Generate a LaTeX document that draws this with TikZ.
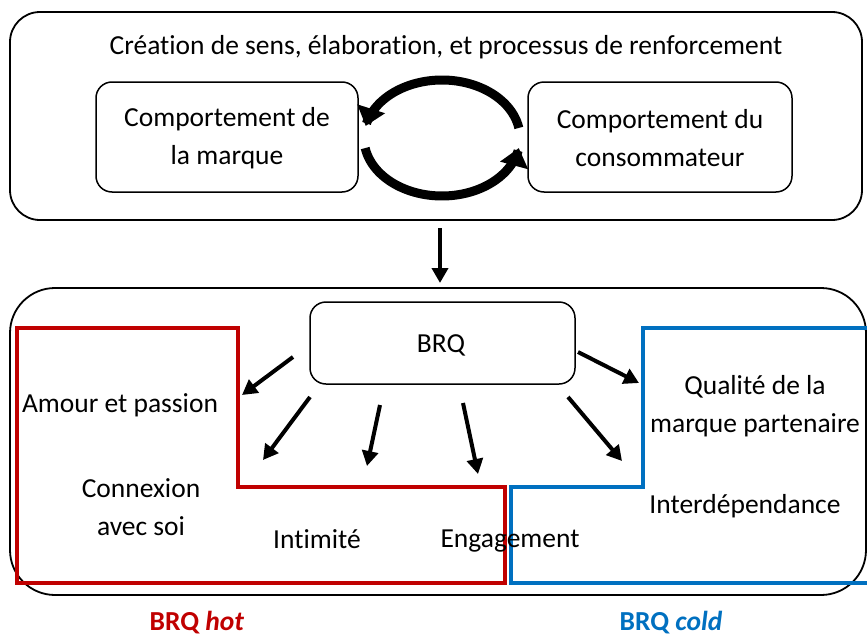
\documentclass[tikz,border=0pt]{standalone}
\usepackage{fontspec}
\setmainfont{Carlito}[Ligatures=NoCommon]
\usetikzlibrary{arrows.meta}
\definecolor{hotred}{HTML}{C00000}
\definecolor{coldblue}{HTML}{0070C0}
\begin{document}
\begin{tikzpicture}[x=1pt,y=-1pt,
  every node/.style={font=\fontsize{27.5}{38}\selectfont, inner sep=0pt, outer sep=0pt},
  outerbox/.style={draw, line width=1.8pt, rounded corners=#1},
  innerbox/.style={draw, line width=1.5pt, rounded corners=16pt, align=center},
  lbl/.style={align=center},
  thickarrow/.style={line width=4pt, -{Triangle[length=15pt,width=16pt]}},
  cyclearrow/.style={line width=9pt, -{Triangle[length=18pt,width=28pt]}},
  zone/.style={line width=3.5pt}
]
\useasboundingbox (0,0) rectangle (867,637);

% top frame
\node[outerbox=30pt, minimum width=852pt, minimum height=208pt] (topbox) at (436,116) {};
\node (title) at (446,47) {Création de sens, élaboration, et processus de renforcement};
\node[innerbox, minimum width=262pt, minimum height=110pt] (brand) at (227,137) {};
\node[lbl] (brandtxt) at (227,138) {Comportement de\\la marque};
\node[innerbox, minimum width=264pt, minimum height=110pt] (cons) at (660,137) {};
\node[lbl] (constxt) at (660,138) {Comportement du\\consommateur};

% cycle arrows
\draw[cyclearrow] plot[domain=10:168, samples=60] ({442+78*cos(\x)}, {138-58*sin(\x)});
\draw[cyclearrow] plot[domain=190:350, samples=60] ({442+78*cos(\x)}, {138-58*sin(\x)});

% bottom frame
\node[outerbox=45pt, minimum width=856pt, minimum height=307pt] (botbox) at (438,441.5) {};

% down arrow
\coordinate (d1) at (440,228);
\coordinate (d2) at (440,283);
\draw[thickarrow] (d1) -- (d2);

% zones
\draw[zone, hotred] (17,328) -- (238,328) -- (238,487) -- (505,487) -- (505,583) -- (17,583) -- cycle;
\draw[zone, coldblue] (872,328) -- (643,328) -- (643,487) -- (511,487) -- (511,583) -- (872,583);

% BRQ
\node[innerbox, minimum width=265pt, minimum height=82pt] (brq) at (442.5,343) {};
\node (brqtxt) at (441,345) {BRQ};

% labels
\node[anchor=west] (amour) at (22,405) {Amour et passion};
\node[lbl] (conn) at (141,507) {Connexion\\avec soi};
\node (intim) at (317,539) {Intimité};
\node (engag) at (510,541) {Engagement};
\node[lbl] (qual) at (755,406) {Qualité de la\\marque partenaire};
\node (inter) at (745,506) {Interdépendance};
\node[text=hotred, font=\fontsize{27.5}{30}\selectfont\bfseries] (hot) at (197,623) {BRQ \textit{hot}};
\node[text=coldblue, font=\fontsize{27.5}{30}\selectfont\bfseries] (cold) at (671,623) {BRQ \textit{cold}};

% arrows from BRQ
\coordinate (a1s) at (293,357); \coordinate (a1e) at (242,395);
\coordinate (a2s) at (310,397); \coordinate (a2e) at (263,460);
\coordinate (a3s) at (380,405); \coordinate (a3e) at (367,466);
\coordinate (a4s) at (463,403); \coordinate (a4e) at (478,474);
\coordinate (a5s) at (568,397); \coordinate (a5e) at (622,461);
\coordinate (a6s) at (578,352); \coordinate (a6e) at (639,383);
\foreach \i in {1,...,6} \draw[thickarrow] (a\i s) -- (a\i e);
\end{tikzpicture}
\end{document}
